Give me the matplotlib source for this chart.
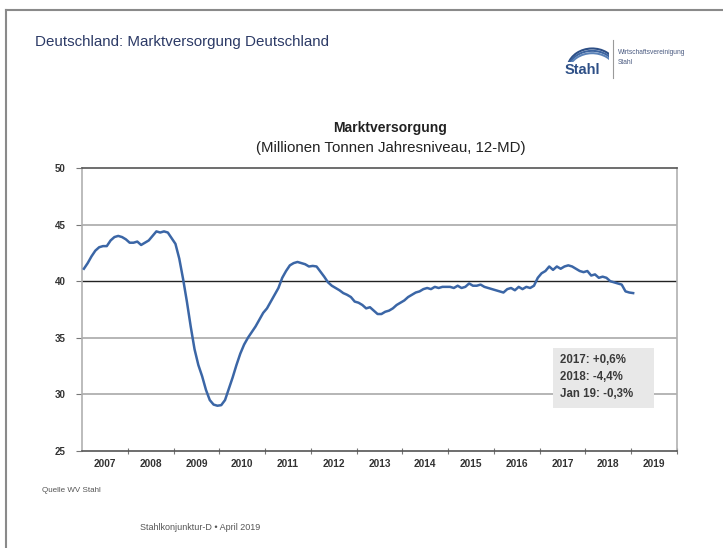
import numpy as np
import matplotlib.pyplot as plt
from matplotlib.patches import Arc, Rectangle

plt.rcParams['font.family'] = ['Liberation Sans', 'DejaVu Sans']

# Marktversorgung, Mio t Jahresniveau (12-MD), monthly Jan 2007 .. Jan 2019
v2007 = [41.1, 41.6, 42.2, 42.7, 43.0, 43.1, 43.1, 43.6, 43.9, 44.0, 43.9, 43.7]
v2008 = [43.4, 43.4, 43.5, 43.2, 43.4, 43.6, 44.0, 44.4, 44.3, 44.4, 44.3, 43.8]
v2009 = [43.3, 42.0, 40.2, 38.2, 36.0, 34.0, 32.6, 31.6, 30.4, 29.5, 29.1, 29.0]
v2010 = [29.05, 29.5, 30.5, 31.5, 32.6, 33.6, 34.4, 35.0, 35.5, 36.0, 36.6, 37.2]
v2011 = [37.6, 38.2, 38.8, 39.4, 40.3, 40.9, 41.4, 41.6, 41.7, 41.6, 41.5, 41.3]
v2012 = [41.35, 41.3, 40.85, 40.4, 39.9, 39.6, 39.4, 39.2, 38.95, 38.8, 38.6, 38.2]
v2013 = [38.1, 37.9, 37.6, 37.7, 37.4, 37.1, 37.1, 37.3, 37.4, 37.6, 37.9, 38.1]
v2014 = [38.3, 38.6, 38.8, 39.0, 39.1, 39.3, 39.4, 39.3, 39.5, 39.4, 39.5, 39.5]
v2015 = [39.5, 39.4, 39.6, 39.4, 39.5, 39.8, 39.6, 39.6, 39.7, 39.5, 39.4, 39.3]
v2016 = [39.2, 39.1, 39.0, 39.3, 39.4, 39.2, 39.5, 39.3, 39.5, 39.4, 39.6, 40.3]
v2017 = [40.7, 40.9, 41.3, 41.0, 41.3, 41.1, 41.3, 41.4, 41.3, 41.1, 40.9, 40.8]
v2018 = [40.9, 40.5, 40.6, 40.3, 40.4, 40.3, 40.0, 39.9, 39.8, 39.7, 39.1, 39.0]
v2019 = [38.95]

years = list(range(2007, 2020))
values = np.array(v2007 + v2008 + v2009 + v2010 + v2011 + v2012 + v2013 +
                  v2014 + v2015 + v2016 + v2017 + v2018 + v2019)
months = 2007 + (np.arange(len(values)) + 0.5) / 12

note = "2017: +0,6%\n2018: -4,4%\nJan 19: -0,3%"

fig = plt.figure(figsize=(7.23, 5.48), dpi=100)
W, H = 723, 548

# slide frame (top and left edge)
fig.add_artist(plt.Line2D([6 / W, 1], [1 - 10 / H, 1 - 10 / H], color='#8a8a8a', lw=1.5))
fig.add_artist(plt.Line2D([6 / W, 6 / W], [0, 1 - 10 / H], color='#8a8a8a', lw=1.5))

fig.text(35 / W, 1 - 42 / H, "Deutschland: Marktversorgung Deutschland",
         fontsize=10.9, color='#2c3a66', va='center')

# logo
fig.text(565 / W, 1 - 70 / H, "Stahl", fontsize=10.5, fontweight='bold',
         color='#2d4f86', va='center')
lax = fig.add_axes([567 / W, 1 - 62 / H, 42 / W, 18 / H])
lax.set_xlim(0, 1)
lax.set_ylim(0, 1)
lax.axis('off')
for k, c in enumerate(['#2d4f86', '#3c64a0', '#5a82b8']):
    lax.add_patch(Arc((0.6, -0.45 - 0.13 * k), 1.2, 2.4, theta1=35, theta2=150,
                      color=c, lw=1.5))
fig.add_artist(plt.Line2D([613 / W, 613 / W], [1 - 78 / H, 1 - 40 / H],
                          color='#9a9a9a', lw=0.8))
fig.text(618 / W, 1 - 53 / H, "Wirtschaftsvereinigung", fontsize=4.8,
         color='#4a5a80', va='center')
fig.text(618 / W, 1 - 63 / H, "Stahl", fontsize=4.8, color='#4a5a80', va='center')

fig.text(390 / W, 1 - 128 / H, "Marktversorgung", fontsize=10, fontweight='bold',
         color='#222222', ha='center', va='center')
fig.text(391 / W, 1 - 148 / H, "(Millionen Tonnen Jahresniveau, 12-MD)", fontsize=10.8,
         color='#222222', ha='center', va='center')

ax = fig.add_axes([82 / W, 1 - 451 / H, 595 / W, 283 / H])
ax.set_xlim(2007, 2020)
ax.set_ylim(25, 50)

for y in [30, 35, 45]:
    ax.axhline(y, color='#b5b5b5', lw=1.4, zorder=1)
ax.axhline(40, color='#222222', lw=1.0, zorder=1)

ax.plot(months, values, color='#3b66a6', lw=1.8, zorder=3)

for side in ['left', 'right']:
    ax.spines[side].set_color('#b0b0b0')
    ax.spines[side].set_linewidth(1.2)
ax.spines['top'].set_color('#555555')
ax.spines['top'].set_linewidth(1.2)
ax.spines['bottom'].set_color('#555555')
ax.spines['bottom'].set_linewidth(1.2)

ax.set_yticks([25, 30, 35, 40, 45, 50])
ax.set_yticklabels(['25', '30', '35', '40', '45', '50'])
ax.tick_params(axis='y', length=4, width=0.8, color='#777777', labelsize=7,
               labelcolor='#333333', pad=8)
for t in ax.get_yticklabels():
    t.set_fontweight('bold')

ax.set_xticks([y + 0.5 for y in years])
ax.set_xticklabels([str(y) for y in years])
ax.set_xticks(years[1:] + [2020], minor=True)
ax.tick_params(axis='x', which='major', length=0, labelsize=7.3, labelcolor='#333333', pad=6)
ax.tick_params(axis='x', which='minor', length=4, width=0.8, color='#777777', direction='inout')
for t in ax.get_xticklabels():
    t.set_fontweight('bold')

# note box
ax.add_patch(Rectangle((2017.28, 28.8), 2.21, 5.3, facecolor='#e8e8e8',
                       edgecolor='none', zorder=4))
ax.text(2017.45, 33.6, note, fontsize=8.3, fontweight='bold', color='#3a3a3a',
        va='top', ha='left', linespacing=1.6, zorder=5)

fig.text(42 / W, 1 - 490 / H, "Quelle WV Stahl", fontsize=5.8, color='#555555', va='center')
fig.text(140 / W, 1 - 528 / H, "Stahlkonjunktur-D \u2022 April 2019", fontsize=6.5,
         color='#555555', va='center')

fig.savefig('out.png', dpi=100)
